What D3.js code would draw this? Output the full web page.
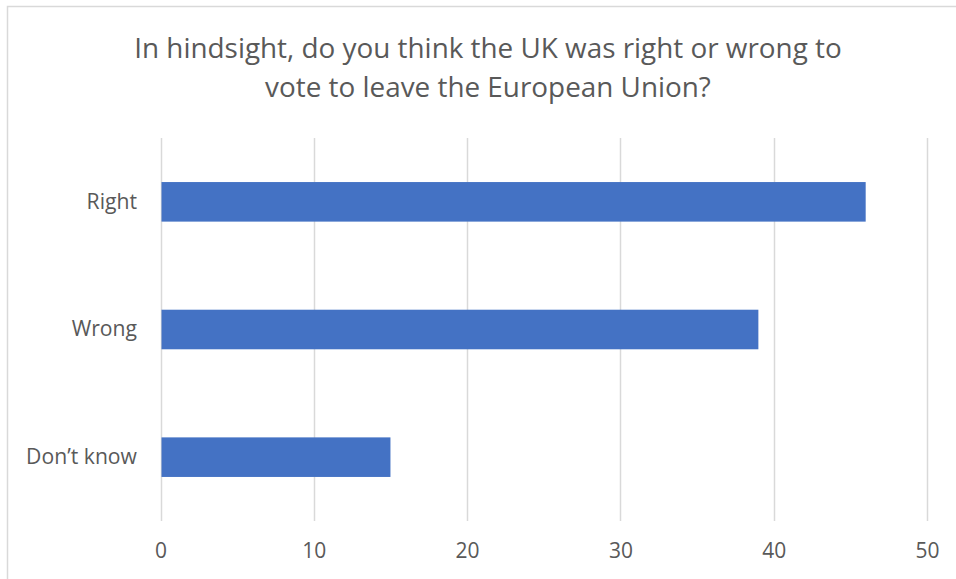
<!DOCTYPE html>
<html><head><meta charset="utf-8">
<script src="https://cdn.jsdelivr.net/npm/d3@7"></script>
<style>body{margin:0;background:#fff;} text{font-family:"Open Sans",sans-serif;}</style>
</head><body><svg id="c" width="956" height="579"></svg>
<script>
const categories = ["Right", "Wrong", "Don\u2019t know"];
const values = [46, 39, 15];
const xTicks = [0, 10, 20, 30, 40, 50];
const titleLines = ["In hindsight, do you think the UK was right or wrong to", "vote to leave the European Union?"];

const FONT = '"Open Sans",sans-serif';
const svg = d3.select("#c");
svg.append("rect").attr("x",7.5).attr("y",6.5).attr("width",1000).attr("height",1000)
  .attr("fill","#fff").attr("stroke","#d9d9d9").attr("stroke-width",1.5);

const x = d3.scaleLinear().domain([0,50]).range([160.5, 927]);
const y = d3.scaleBand().domain(categories).range([138, 521]).paddingInner(0.69).paddingOuter(0.345);

const g = svg.append("g");
g.selectAll("line.grid").data(xTicks).join("line")
  .attr("x1",d=>Math.round(x(d))+0.5).attr("x2",d=>Math.round(x(d))+0.5)
  .attr("y1",138).attr("y2",521).attr("stroke","#d9d9d9").attr("stroke-width",1.5);

g.selectAll("rect.bar").data(values).join("rect")
  .attr("x",x(0)+1).attr("y",(d,i)=>y(categories[i]))
  .attr("width",d=>x(d)-x(0)-1).attr("height",y.bandwidth()).attr("fill","#4472c4");

// fit a text element's font size so its width matches target
function fit(sel, target){
  const n = sel.node(); const fs = parseFloat(sel.attr("font-size"));
  const w = n.getComputedTextLength();
  if (w>0) sel.attr("font-size", fs*target/w);
}

const xAxis = d3.axisBottom(x).tickValues(xTicks).tickSize(0).tickPadding(0);
const xa = svg.append("g").attr("transform","translate(0,0)").call(xAxis);
xa.select(".domain").remove();
xa.selectAll("text").attr("font-size",17).attr("fill","#595959").attr("y",558).attr("dy",0)
  .attr("font-family",FONT);
fit(xa.selectAll("text").filter(d=>d===50), 24);
const fsx = xa.selectAll("text").filter(d=>d===50).attr("font-size");
xa.selectAll("text").attr("font-size",fsx);

const yAxis = d3.axisLeft(y).tickSize(0).tickPadding(0);
const ya = svg.append("g").attr("transform","translate(137,0)").call(yAxis);
ya.select(".domain").remove();
ya.selectAll("text").attr("font-size",17).attr("fill","#595959").attr("font-family",FONT);
fit(ya.selectAll("text").filter(d=>d===categories[2]), 111);
const fsy = ya.selectAll("text").filter(d=>d===categories[2]).attr("font-size");
ya.selectAll("text").attr("font-size",fsy);

const t = svg.append("text").attr("x",488).attr("text-anchor","middle").attr("fill","#595959")
  .attr("font-size",25).attr("font-family",FONT);
t.selectAll("tspan").data(titleLines).join("tspan")
  .attr("x",488).attr("y",(d,i)=>58+i*39).text(d=>d);
const tw = t.select("tspan").node().getComputedTextLength();
if (tw>0) t.attr("font-size", 25*708/tw);
</script></body></html>
